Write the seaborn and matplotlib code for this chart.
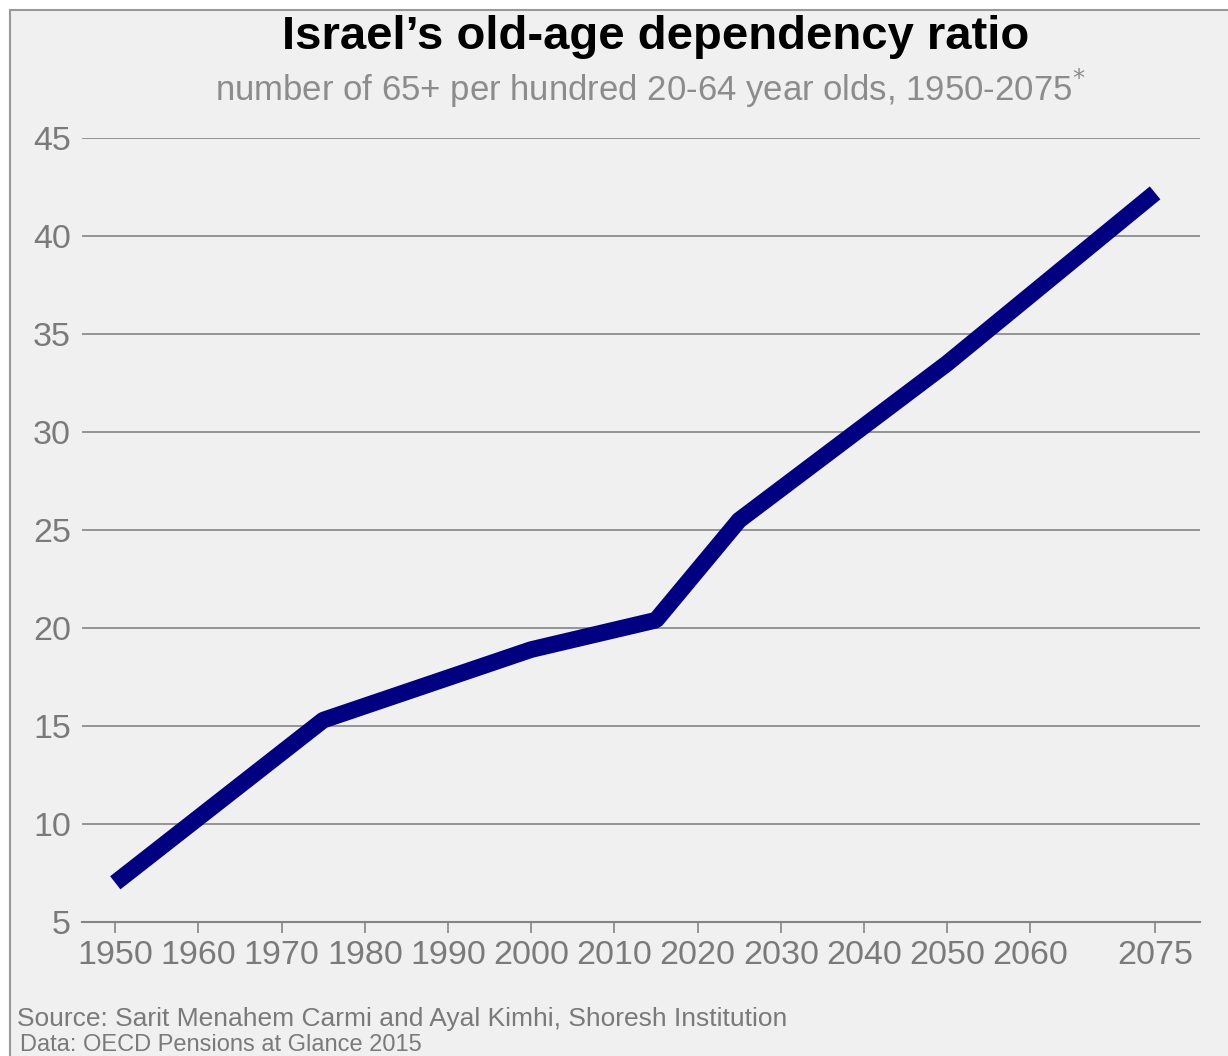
import matplotlib as mpl
mpl.use("Agg")
import matplotlib.pyplot as plt
from matplotlib.patches import Rectangle
import pandas as pd
import seaborn as sns

years = [1950, 1975, 2000, 2015, 2025, 2050, 2075]
ratio = [7.0, 15.3, 18.9, 20.4, 25.5, 33.5, 42.2]
xticks = [1950, 1960, 1970, 1980, 1990, 2000, 2010, 2020, 2030, 2040, 2050, 2060, 2075]
yticks = [5, 10, 15, 20, 25, 30, 35, 40, 45]

bg = "#eff0ef"
grey = "#858585"

sns.set_style("white")
plt.rcParams["font.family"] = ["Liberation Sans", "DejaVu Sans"]

df = pd.DataFrame({"year": years, "ratio": ratio})

fig = plt.figure(figsize=(12.28, 10.56), dpi=100, facecolor="white")
fig.patches.append(Rectangle((10 / 1228, -0.01), 1.0, 1 - 10 / 1056 + 0.01,
                             transform=fig.transFigure, facecolor=bg,
                             edgecolor="#999999", linewidth=1.5, zorder=-10))
ax = fig.add_axes([82 / 1228, 1 - 922 / 1056, (1200 - 82) / 1228, (922 - 138) / 1056])
ax.set_facecolor(bg)

for y in yticks[1:]:
    ax.axhline(y, color=grey, linewidth=1.2, zorder=1)

sns.lineplot(data=df, x="year", y="ratio", ax=ax, color="#000080", linewidth=12,
             solid_capstyle="butt", solid_joinstyle="bevel", zorder=3)

ax.set_xlim(1946, 2080.4)
ax.set_ylim(5, 45)
ax.set_xticks(xticks)
ax.set_yticks(yticks)
ax.set_xlabel("")
ax.set_ylabel("")
ax.tick_params(axis="x", direction="out", length=8, width=1.2, color=grey,
               labelsize=24.5, labelcolor="#7a7a7a", pad=5, bottom=True)
ax.tick_params(axis="y", length=0, labelsize=24.5, labelcolor="#7a7a7a", pad=8)
for s in ["top", "right", "left"]:
    ax.spines[s].set_visible(False)
ax.spines["bottom"].set_color(grey)
ax.spines["bottom"].set_linewidth(1.5)

fig.text(656 / 1228, 1 - 37 / 1056, "Israel\u2019s old-age dependency ratio",
         ha="center", va="center", fontsize=34, fontweight="bold", color="black")
fig.text(650 / 1228, 1 - 88 / 1056,
         "number of 65+ per hundred 20-64 year olds, 1950-2075$^{*}$",
         ha="center", va="center", fontsize=25, color="#8c8c8c")
fig.text(17 / 1228, 1 - 1019 / 1056,
         "Source: Sarit Menahem Carmi and Ayal Kimhi, Shoresh Institution",
         ha="left", va="center", fontsize=19, color="#7a7a7a")
fig.text(20 / 1228, 1 - 1045 / 1056, "Data: OECD Pensions at Glance 2015",
         ha="left", va="center", fontsize=17, color="#7a7a7a")

plt.savefig("out.png", dpi=100, facecolor=fig.get_facecolor())
plt.close()
